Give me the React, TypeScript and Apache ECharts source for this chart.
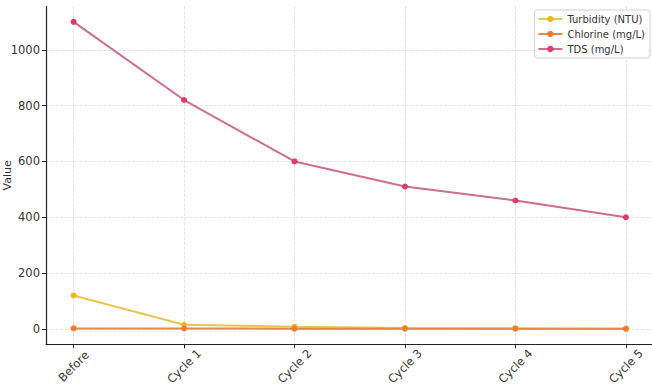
import React, { useEffect, useRef } from "react";
import * as echarts from "echarts";

const categories = ["Before", "Cycle 1", "Cycle 2", "Cycle 3", "Cycle 4", "Cycle 5"];
const turbidity = [120, 15, 8, 3, 2, 1];
const chlorine = [2, 1.5, 1, 1, 0.8, 0.5];
const tds = [1100, 820, 600, 510, 460, 400];
const yTicks = [0, 200, 400, 600, 800, 1000];
const xTicks = [0, 1, 2, 3, 4, 5];

const FONT = "DejaVu Sans";

export default function App() {
  const ref = useRef<HTMLDivElement>(null);
  useEffect(() => {
    if (!ref.current) return;
    const chart = echarts.init(ref.current, null, { renderer: "svg" });
    const mk = (name: string, vals: number[], line: string, mark: string) => ({
      name,
      type: "line",
      data: vals.map((v, i) => [i, v]),
      symbol: "circle",
      symbolSize: 6,
      lineStyle: { color: line, width: 2 },
      itemStyle: { color: mark },
      emphasis: { disabled: true },
    });
    chart.setOption({
      animation: false,
      textStyle: { fontFamily: FONT },
      grid: {
        left: 46,
        right: -1.5,
        top: 6.5,
        bottom: 43.7,
        containLabel: false,
        outerBoundsMode: "none",
      },
      legend: {
        orient: "vertical",
        right: 2,
        top: 10,
        itemWidth: 24,
        itemHeight: 8,
        itemGap: 5,
        padding: [4, 5, 4, 3],
        borderColor: "#d0d0d0",
        borderWidth: 1,
        borderRadius: 3,
        backgroundColor: "#fff",
        textStyle: { fontFamily: FONT, fontSize: 10, color: "#333" },
        data: ["Turbidity (NTU)", "Chlorine (mg/L)", "TDS (mg/L)"],
      },
      xAxis: {
        type: "value",
        min: -0.25,
        max: 5.25,
        name: "Filtration Cycle",
        nameLocation: "middle",
        nameGap: 47,
        nameMoveOverlap: false,
        nameTextStyle: { fontFamily: FONT, fontSize: 11, color: "#333" },
        axisLine: { show: true, onZero: false, lineStyle: { color: "#222", width: 1.2 } },
        axisTick: { show: true, length: 4, customValues: xTicks, lineStyle: { color: "#222" } },
        axisLabel: {
          customValues: xTicks,
          formatter: (v: number) => categories[Math.round(v)] ?? "",
          rotate: 45,
          align: "center",
          verticalAlign: "middle",
          margin: 22,
          fontFamily: FONT,
          fontSize: 11.5,
          color: "#333",
        },
        splitLine: { show: true, lineStyle: { color: "#dcdcdc", type: "dashed", width: 0.8 } },
      },
      yAxis: {
        type: "value",
        min: -55,
        max: 1155,
        name: "Value",
        nameLocation: "middle",
        nameGap: 33,
        nameMoveOverlap: false,
        nameTextStyle: { fontFamily: FONT, fontSize: 11, color: "#333" },
        axisLine: { show: true, onZero: false, lineStyle: { color: "#222", width: 1.2 } },
        axisTick: { show: true, length: 4, customValues: yTicks, lineStyle: { color: "#222" } },
        axisLabel: {
          customValues: yTicks,
          formatter: (v: number) => String(v),
          margin: 6,
          fontFamily: FONT,
          fontSize: 11.5,
          color: "#333",
        },
        splitLine: { show: true, lineStyle: { color: "#dcdcdc", type: "dashed", width: 0.8 } },
      },
      series: [
        mk("Turbidity (NTU)", turbidity, "#e8c552", "#f2b51e"),
        mk("Chlorine (mg/L)", chlorine, "#e0874a", "#ef7a32"),
        mk("TDS (mg/L)", tds, "#cf6d8c", "#e23a60"),
      ],
    });
    return () => chart.dispose();
  }, []);
  return <div ref={ref} style={{ width: 652, height: 388, position: "absolute", left: 0, top: 0 }} />;
}
